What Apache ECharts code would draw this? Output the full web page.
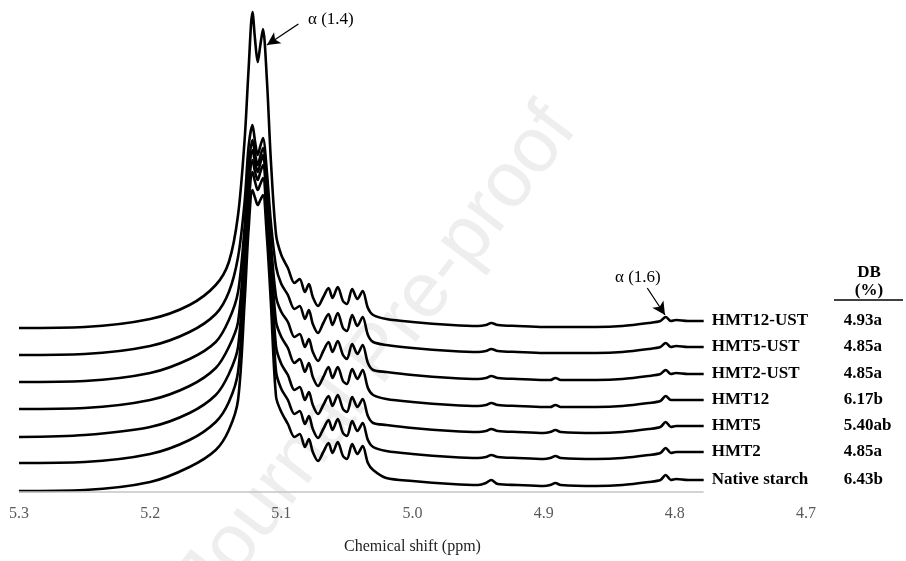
<!DOCTYPE html>
<html>
<head>
<meta charset="utf-8">
<script src="https://cdn.jsdelivr.net/npm/echarts@6/dist/echarts.min.js"></script>
<style>
  html, body { margin: 0; padding: 0; background: #fff; }
  #chart { width: 906px; height: 561px; }
</style>
</head>
<body>
<div id="chart"></div>
<script>
// 1H NMR 叠加谱:7 条曲线已按堆叠位置读数(纵轴为任意强度单位)
const ppm = [5.300, 5.250, 5.200, 5.170, 5.150, 5.140, 5.133, 5.128, 5.125, 5.122,
  5.120, 5.118, 5.116, 5.114, 5.111, 5.108, 5.104, 5.100, 5.095, 5.090,
  5.086, 5.082, 5.079, 5.076, 5.072, 5.068, 5.064, 5.061, 5.057, 5.053,
  5.050, 5.046, 5.042, 5.038, 5.034, 5.030, 5.020, 5.000, 4.970, 4.950,
  4.944, 4.940, 4.935, 4.920, 4.900, 4.895, 4.891, 4.887, 4.860, 4.840,
  4.820, 4.811, 4.807, 4.803, 4.799, 4.790, 4.778];

const hmt12ust = [164, 165, 173, 187, 207, 230, 277, 352, 422, 480,
  452, 430, 447, 463, 412, 332, 257, 237, 224, 209,
  213, 200, 208, 195, 186, 195, 204, 194, 205, 191,
  188, 203, 193, 201, 184, 177, 173, 170, 167, 166,
  167, 169, 167, 166, 165, 165, 165, 165, 165, 166,
  169, 171, 175, 171, 172, 171, 171];
const hmt5ust = [137, 138, 146, 160, 178, 200, 235, 290, 345, 367,
  350, 337, 346, 354, 320, 270, 225, 208, 197, 183,
  186, 173, 182, 168, 159, 169, 178, 167, 179, 164,
  161, 177, 166, 175, 157, 150, 147, 144, 141, 140,
  141, 143, 141, 140, 139, 139, 139, 139, 139, 140,
  143, 145, 149, 145, 146, 145, 145];
const hmt2ust = [110, 111, 119, 133, 150, 172, 200, 265, 325, 352,
  338, 327, 336, 344, 305, 250, 195, 180, 170, 155,
  158, 145, 153, 140, 131, 141, 150, 140, 151, 137,
  133, 148, 138, 147, 129, 122, 120, 117, 114, 113,
  114, 116, 114, 113, 112, 112, 114, 112, 112, 113,
  116, 118, 122, 118, 119, 118, 118];
const hmt12 = [83, 84, 92, 106, 124, 145, 170, 250, 312, 342,
  330, 320, 329, 337, 295, 238, 170, 155, 144, 129,
  133, 120, 129, 115, 106, 115, 125, 114, 125, 111,
  108, 123, 113, 122, 104, 97, 93, 90, 87, 86,
  87, 89, 87, 86, 85, 85, 87, 85, 85, 86,
  89, 91, 96, 92, 92, 92, 92];
const hmt5 = [55, 57, 65, 79, 97, 118, 145, 235, 300, 332,
  320, 312, 320, 327, 285, 225, 145, 128, 117, 102,
  105, 92, 100, 87, 78, 87, 96, 86, 97, 83,
  80, 95, 85, 93, 76, 69, 67, 64, 61, 60,
  61, 63, 61, 60, 59, 60, 62, 60, 59, 60,
  63, 65, 70, 65, 66, 66, 66];
const hmt2 = [29, 30, 38, 52, 70, 90, 120, 215, 285, 320,
  310, 302, 308, 314, 272, 210, 120, 103, 92, 78,
  81, 68, 76, 63, 54, 63, 72, 62, 73, 59,
  56, 71, 61, 69, 52, 45, 41, 38, 35, 34,
  35, 37, 35, 34, 33, 34, 36, 34, 33, 34,
  37, 39, 44, 39, 40, 40, 40];
const nativeStarch = [1, 2, 10, 25, 42, 62, 92, 190, 262, 302,
  294, 287, 292, 297, 255, 190, 95, 80, 68, 55,
  58, 45, 53, 40, 31, 40, 49, 39, 50, 36,
  33, 48, 38, 46, 29, 22, 14, 11, 8, 7,
  9, 12, 8, 7, 6, 7, 9, 7, 6, 7,
  10, 12, 17, 12, 13, 12, 12];

const traces = [hmt12ust, hmt5ust, hmt2ust, hmt12, hmt5, hmt2, nativeStarch];
const names = ["HMT12-UST", "HMT5-UST", "HMT2-UST", "HMT12", "HMT5", "HMT2", "Native starch"];
const dbValues = ["4.93a", "4.85a", "4.85a", "6.17b", "5.40ab", "4.85a", "6.43b"];
const xTicks = [5.3, 5.2, 5.1, 5.0, 4.9, 4.8, 4.7];

// 箭头:[起点 ppm, 起点强度, 终点 ppm, 终点强度]
const arrows = [[5.087, 468, 5.111, 447], [4.821, 204, 4.8075, 177]];

const serif = "'Liberation Serif', 'Times New Roman', serif";
const chart = echarts.init(document.getElementById("chart"));

const series = traces.map((ys, i) => {
  const last = ys.length - 1;
  const s = {
    name: names[i],
    type: "line",
    data: ppm.map((x, k) => [x, ys[k]]),
    showSymbol: false,
    smooth: 0.3,
    silent: true,
    lineStyle: { color: "#000", width: 2.6 },
    z: 3,
    markPoint: {
      symbol: "circle", symbolSize: 0, silent: true,
      data: [{ coord: [ppm[last], ys[last]] }],
      label: {
        show: true, position: "right", distance: 8,
        formatter: `{n|${names[i]}}{v|${dbValues[i]}}`,
        rich: {
          n: { width: 132, fontFamily: serif, fontWeight: "bold", fontSize: 17, color: "#000" },
          v: { fontFamily: serif, fontWeight: "bold", fontSize: 17, color: "#000" },
        },
      },
    },
  };
  if (i === 0) {
    s.markLine = {
      silent: true, symbol: ["none", "arrow"], symbolSize: [10, 13],
      label: { show: false },
      lineStyle: { color: "#000", width: 1.3, type: "solid" },
      data: arrows.map(a => [{ coord: [a[0], a[1]] }, { coord: [a[2], a[3]] }]),
    };
  }
  if (i === traces.length - 1) {
    s.markLine = {
      silent: true, symbol: "none", label: { show: false },
      lineStyle: { color: "#c4c4c4", width: 1.5, type: "solid" },
      data: [[{ coord: [ppm[0], 0] }, { coord: [ppm[ppm.length - 1], 0] }]],
    };
  }
  return s;
});

chart.setOption({
  animation: false,
  backgroundColor: "#fff",
  grid: { left: 19, right: 100, top: 0, bottom: 69 },
  xAxis: {
    type: "value", inverse: true, min: 4.7, max: 5.3, interval: 0.1,
    axisLine: { show: false }, axisTick: { show: false }, splitLine: { show: false },
    axisLabel: {
      margin: 14, color: "#595959", fontFamily: serif, fontSize: 16,
      formatter: v => xTicks.find(t => Math.abs(t - v) < 1e-6)?.toFixed(1) ?? "",
    },
    name: "Chemical shift (ppm)", nameLocation: "middle", nameGap: 47,
    nameTextStyle: { color: "#222", fontFamily: serif, fontSize: 16 },
  },
  yAxis: { type: "value", min: 0, max: 492, show: false },
  graphic: [
    {
      type: "text", left: 165, top: 92, rotation: 0.92, z: -1, silent: true,
      style: { text: "Journal Pre-proof", fontFamily: "'Liberation Sans', Arial, sans-serif",
        fontSize: 78, fill: "#eeeeee" },
    },
    { type: "text", x: 308, y: 20, silent: true,
      style: { text: "α (1.4)", fontFamily: serif, fontSize: 17, fill: "#000", verticalAlign: "middle" } },
    { type: "text", x: 615, y: 278, silent: true,
      style: { text: "α (1.6)", fontFamily: serif, fontSize: 17, fill: "#000", verticalAlign: "middle" } },
    { type: "text", x: 869, y: 273, silent: true,
      style: { text: "DB", fontFamily: serif, fontWeight: "bold", fontSize: 17, fill: "#000",
        align: "center", verticalAlign: "middle" } },
    { type: "text", x: 869, y: 291, silent: true,
      style: { text: "(%)", fontFamily: serif, fontWeight: "bold", fontSize: 17, fill: "#000",
        align: "center", verticalAlign: "middle" } },
    { type: "line", silent: true, shape: { x1: 834, y1: 300, x2: 903, y2: 300 },
      style: { stroke: "#000", lineWidth: 1.3 } },
  ],
  series,
});
</script>
</body>
</html>
